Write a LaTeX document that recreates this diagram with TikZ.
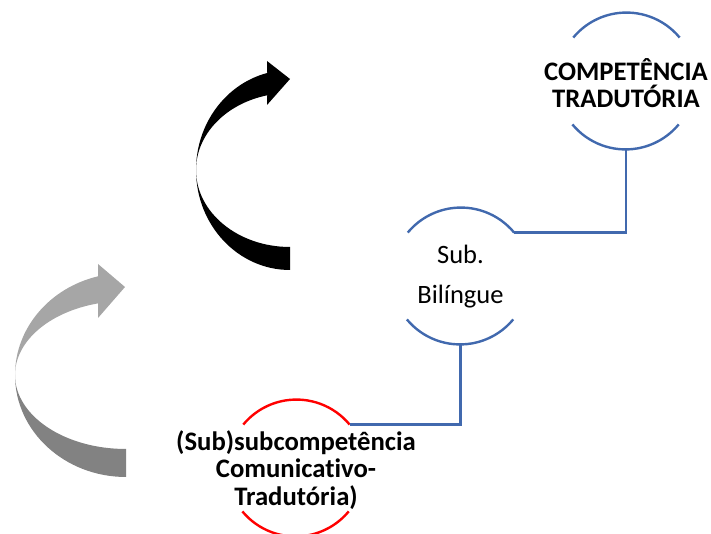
\documentclass[tikz,border=0pt]{standalone}
\usepackage{fontspec}
\setmainfont{Carlito}[Ligatures=NoCommon]
\definecolor{ringblue}{HTML}{4169AE}
\definecolor{lightgrey}{HTML}{A6A6A6}
\definecolor{darkgrey}{HTML}{828282}
\begin{document}
\begin{tikzpicture}[x=1pt,y=1pt,
  ring/.style={circle, minimum size=138pt, inner sep=0pt, outer sep=0pt},
  blueline/.style={draw=ringblue, line width=2.4pt},
  redline/.style={draw=red, line width=2.4pt},
  boldtext/.style={align=center, inner sep=0pt, font=\bfseries\fontsize{26.7}{27.5}\selectfont},
  plaintext/.style={align=center, inner sep=0pt, font=\fontsize{26.5}{40}\selectfont}]
\useasboundingbox (0,0) rectangle (711,534);

% circles (invisible shapes, arcs drawn)
\node[ring] (top) at (626,453) {};
\node[ring] (sub) at (460.5,258) {};
\node[ring] (red) at (296,66) {};

\draw[blueline] (top.39.6) arc[start angle=39.6, end angle=140.4, radius=69];
\draw[blueline] (top.219.6) arc[start angle=219.6, end angle=320.4, radius=69];
\draw[blueline] (sub.39.6) arc[start angle=39.6, end angle=140.4, radius=69];
\draw[blueline] (sub.219.6) arc[start angle=219.6, end angle=320.4, radius=69];
\draw[redline] (red.39.6) arc[start angle=39.6, end angle=140.4, radius=69];
\draw[redline] (red.219.6) arc[start angle=219.6, end angle=320.4, radius=69];

% connectors
\draw[blueline] (top.south) |- (sub.39.6);
\draw[blueline] (sub.south) |- (red.39.6);

% texts
\node[boldtext] (ttop) at ([yshift=-2]top.center) {COMPETÊNCIA\\TRADUTÓRIA};
\node[plaintext] (tsub) at ([yshift=-1]sub.center) {Sub.\\Bilíngue};
\node[boldtext] (tred) at ([yshift=-2]red.center) {(Sub)subcompetência\\Comunicat\kern0pt ivo-\\Tradutória)};

% black curved arrow
\begin{scope}[shift={(290,364)}]
  \fill[black] (180:94 and 100) arc[start angle=180, end angle=104, x radius=94, y radius=100]
    -- (-23,109) -- (0,91) -- (-23,65) -- (104:94 and 77)
    arc[start angle=104, end angle=180, x radius=94, y radius=77] -- cycle;
  \fill[black] (180:94 and 100) arc[start angle=180, end angle=270, x radius=94, y radius=100]
    -- (270:94 and 77) arc[start angle=270, end angle=180, x radius=94, y radius=77] -- cycle;
\end{scope}

% grey curved arrow
\begin{scope}[shift={(126,159)}]
  \fill[lightgrey] (180:111 and 102) arc[start angle=180, end angle=104.6, x radius=111, y radius=102]
    -- (-28,111) -- (-1,88) -- (-28,57) -- (104.6:111 and 74)
    arc[start angle=104.6, end angle=180, x radius=111, y radius=74] -- cycle;
  \fill[darkgrey] (180:111 and 102) arc[start angle=180, end angle=270, x radius=111, y radius=102]
    -- (270:111 and 74) arc[start angle=270, end angle=180, x radius=111, y radius=74] -- cycle;
\end{scope}
\end{tikzpicture}
\end{document}
